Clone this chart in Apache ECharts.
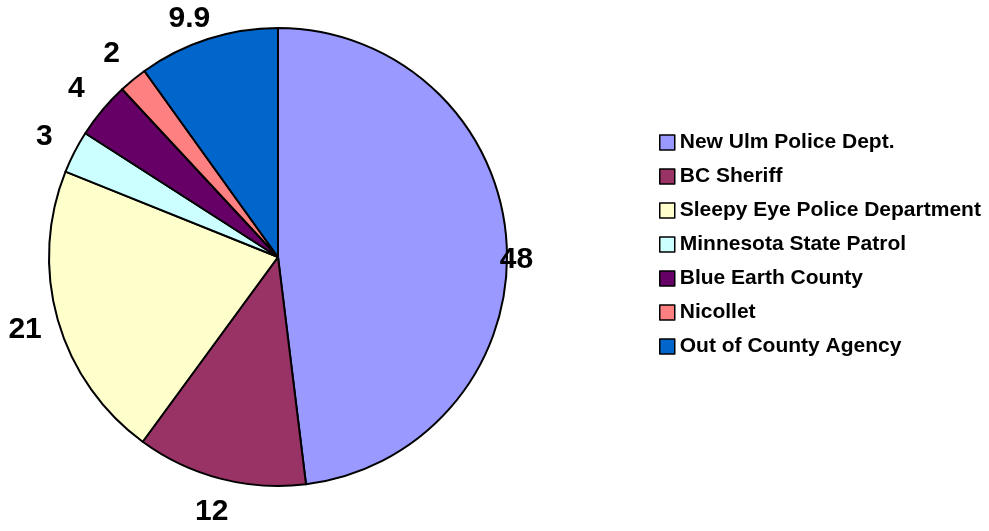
<!DOCTYPE html>
<html>
<head>
<meta charset="utf-8">
<script src="https://cdn.jsdelivr.net/npm/echarts@6/dist/echarts.min.js"></script>
<style>
  html, body { margin: 0; padding: 0; background: #fff; }
  #chart { width: 989px; height: 531px; }
</style>
</head>
<body>
<div id="chart"></div>
<script>
const agencies = [
  'New Ulm Police Dept.',
  'BC Sheriff',
  'Sleepy Eye Police Department',
  'Minnesota State Patrol',
  'Blue Earth County',
  'Nicollet',
  'Out of County Agency'
]
const counts = [48, 12, 21, 3, 4, 2, 9.9]
const sliceColors = ['#9999FF', '#993366', '#FFFFCC', '#CCFFFF', '#660066', '#FF8080', '#0066CC']

const font = 'Arial, "Liberation Sans", sans-serif'

const pieData = agencies.map((name, i) => ({
  name: name,
  value: counts[i],
  itemStyle: { color: sliceColors[i] }
}))

const chart = echarts.init(document.getElementById('chart'))

chart.setOption({
  animation: false,
  legend: {
    orient: 'vertical',
    left: 659,
    top: 132,
    padding: 0,
    itemWidth: 15,
    itemHeight: 15,
    itemGap: 13,
    icon: 'rect',
    data: agencies,
    itemStyle: { borderColor: '#000', borderWidth: 1.5 },
    textStyle: { fontFamily: font, fontWeight: 'bold', fontSize: 21, color: '#000' }
  },
  series: [
    {
      type: 'pie',
      center: [278, 257],
      radius: 229,
      startAngle: 90,
      clockwise: true,
      silent: true,
      label: { show: false },
      labelLine: { show: false },
      itemStyle: { borderColor: '#000', borderWidth: 2 },
      data: pieData
    },
    {
      // transparent ring used only to place the value labels
      type: 'pie',
      center: [278, 257],
      radius: [240, 280],
      startAngle: 90,
      clockwise: true,
      silent: true,
      legendHoverLink: false,
      itemStyle: { color: 'rgba(0,0,0,0)', borderWidth: 0 },
      label: {
        show: true,
        position: 'inside',
        formatter: '{c}',
        fontFamily: font,
        fontWeight: 'bold',
        fontSize: 30,
        color: '#000'
      },
      labelLine: { show: false },
      labelLayout: function (p) {
        if (p.dataIndex === 0) {
          return { dx: -24, dy: 19 }
        }
        if (p.dataIndex === 6) {
          return { dx: -8, dy: 12 }
        }
      },
      data: agencies.map((name, i) => ({ name: name, value: counts[i] }))
    }
  ]
})
</script>
</body>
</html>
